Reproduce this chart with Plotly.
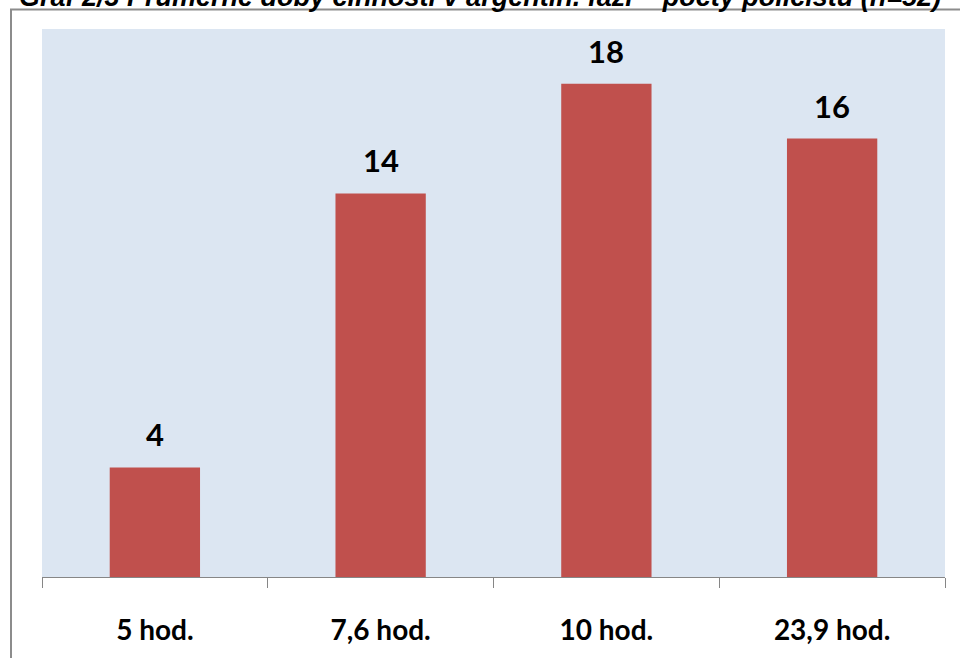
import plotly.graph_objects as go

# Průměrná doba činnosti – počty policistů
categories = ["5 hod.", "7,6 hod.", "10 hod.", "23,9 hod."]
counts = [4, 14, 18, 16]
title_text = "Graf 2/3 Průměrné doby činnosti v argentin. fázi – počty policistů (n=52)"

W, H = 960, 658
L, R, T, B = 42, 15, 29, 81
pw, ph = W - L - R, H - T - B

LABEL_FONT = "Lato, Open Sans, sans-serif"


def px_x(x):
    return (x - L) / pw


def px_y(y):
    return (H - B - y) / ph


fig = go.Figure(
    go.Bar(
        x=categories,
        y=counts,
        marker=dict(color="#C0504D", line=dict(width=0)),
        hoverinfo="skip",
    )
)

# Value labels above the bars
for cat, val in zip(categories, counts):
    fig.add_annotation(
        x=cat,
        y=val,
        text=str(val),
        showarrow=False,
        yanchor="middle",
        yshift=33,
        font=dict(family=LABEL_FONT, size=31, color="#000000", weight="bold"),
    )

fig.update_layout(
    width=W,
    height=H,
    margin=dict(l=L, r=R, t=T, b=B, pad=0),
    paper_bgcolor="#FFFFFF",
    plot_bgcolor="#DCE6F2",
    bargap=0.6,
    showlegend=False,
)

fig.update_xaxes(
    type="category",
    tickson="boundaries",
    ticks="outside",
    ticklen=10,
    tickcolor="#868686",
    tickwidth=1,
    showline=True,
    linecolor="#868686",
    linewidth=1,
    showgrid=False,
    tickfont=dict(family=LABEL_FONT, size=28, color="#000000", weight="bold"),
    ticklabelstandoff=28,
)

fig.update_yaxes(
    range=[0, 20],
    visible=False,
    showgrid=False,
    zeroline=False,
)

# Outer frame of the chart box
fig.add_shape(
    type="rect",
    xref="paper",
    yref="paper",
    x0=px_x(11),
    x1=px_x(W + 20),
    y0=px_y(H + 20),
    y1=px_y(9.5),
    line=dict(color="#8C8C8C", width=2),
    fillcolor="rgba(0,0,0,0)",
    layer="below",
)

# Caption above the chart box
fig.add_annotation(
    text="<b><i>" + title_text + "</i></b>",
    xref="paper",
    yref="paper",
    x=px_x(17),
    y=px_y(14),
    xanchor="left",
    yanchor="bottom",
    showarrow=False,
    font=dict(family="Liberation Sans, Arial, sans-serif", size=27, color="#000000"),
)

fig.write_html("out.html")
